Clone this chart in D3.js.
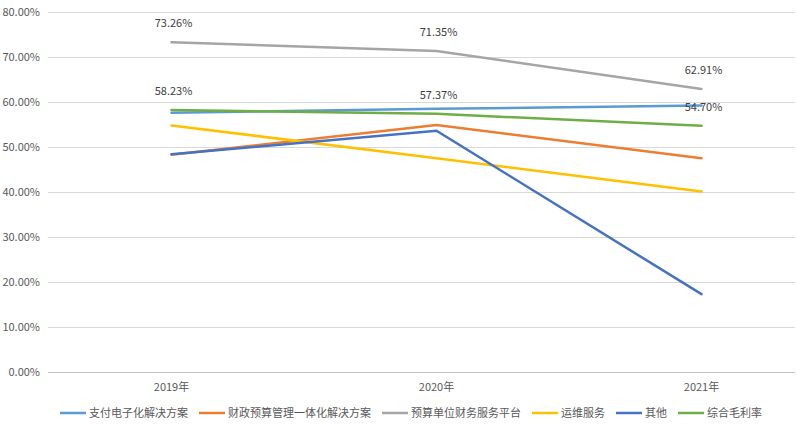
<!DOCTYPE html>
<html><head><meta charset="utf-8">
<script src="https://cdn.jsdelivr.net/npm/d3@7"></script>
<style>body{margin:0;background:#fff}text{font-family:"Noto Sans CJK SC","Noto Sans",sans-serif}</style>
</head><body>
<script>
const years = ['2019年', '2020年', '2021年']
const seriesNames = ['支付电子化解决方案', '财政预算管理一体化解决方案', '预算单位财务服务平台', '运维服务', '其他', '综合毛利率']
const colors = ['#5B9BD5', '#ED7D31', '#A5A5A5', '#FFC000', '#4472C4', '#70AD47']
const values = [
  [57.6, 58.5, 59.2],
  [48.3, 54.9, 47.5],
  [73.26, 71.35, 62.91],
  [54.8, 47.5, 40.1],
  [48.4, 53.6, 17.3],
  [58.23, 57.37, 54.70]
]
const labelled = [2, 5]
const yTicks = [0, 10, 20, 30, 40, 50, 60, 70, 80]

const width = 797, height = 425
const svg = d3.select('body').append('svg').attr('width', width).attr('height', height)

const x = d3.scalePoint().domain(years).range([39, 834]).padding(0.5)
const y = d3.scaleLinear().domain([0, 80]).range([372, 12])

svg.append('g').selectAll('line').data(yTicks).join('line')
  .attr('x1', 48).attr('x2', 795)
  .attr('y1', d => y(d) + 0.5).attr('y2', d => y(d) + 0.5)
  .attr('stroke', d => d === 0 ? '#bfbfbf' : '#d9d9d9')

svg.append('g').selectAll('text').data(yTicks).join('text')
  .attr('x', 40).attr('y', d => y(d) + 4).attr('text-anchor', 'end')
  .attr('font-size', 11).attr('fill', '#595959')
  .text(d => d.toFixed(2) + '%')

svg.append('g').selectAll('text').data(years).join('text')
  .attr('x', d => x(d)).attr('y', 391).attr('text-anchor', 'middle')
  .attr('font-size', 11).attr('fill', '#595959').text(d => d)

const line = d3.line().x((d, i) => x(years[i])).y(d => y(d))
values.forEach((v, s) => {
  svg.append('path').attr('d', line(v)).attr('fill', 'none')
    .attr('stroke', colors[s]).attr('stroke-width', 2.5).attr('stroke-linecap', 'round')
})
labelled.forEach(s => {
  svg.append('g').selectAll('text').data(values[s]).join('text')
    .attr('x', (d, i) => x(years[i]) + 2).attr('y', d => y(d) - 15)
    .attr('text-anchor', 'middle').attr('font-size', 11).attr('fill', '#404040')
    .text(d => d.toFixed(2) + '%')
})

// legend
const lg = svg.append('g')
let lx = 60
seriesNames.forEach((n, i) => {
  lg.append('line').attr('x1', lx).attr('x2', lx + 26).attr('y1', 413).attr('y2', 413)
    .attr('stroke', colors[i]).attr('stroke-width', 2.5)
  const t = lg.append('text').attr('x', lx + 29).attr('y', 417).attr('font-size', 11)
    .attr('fill', '#595959').text(n)
  lx += 29 + t.node().getComputedTextLength() + 11
})
</script>
</body></html>
